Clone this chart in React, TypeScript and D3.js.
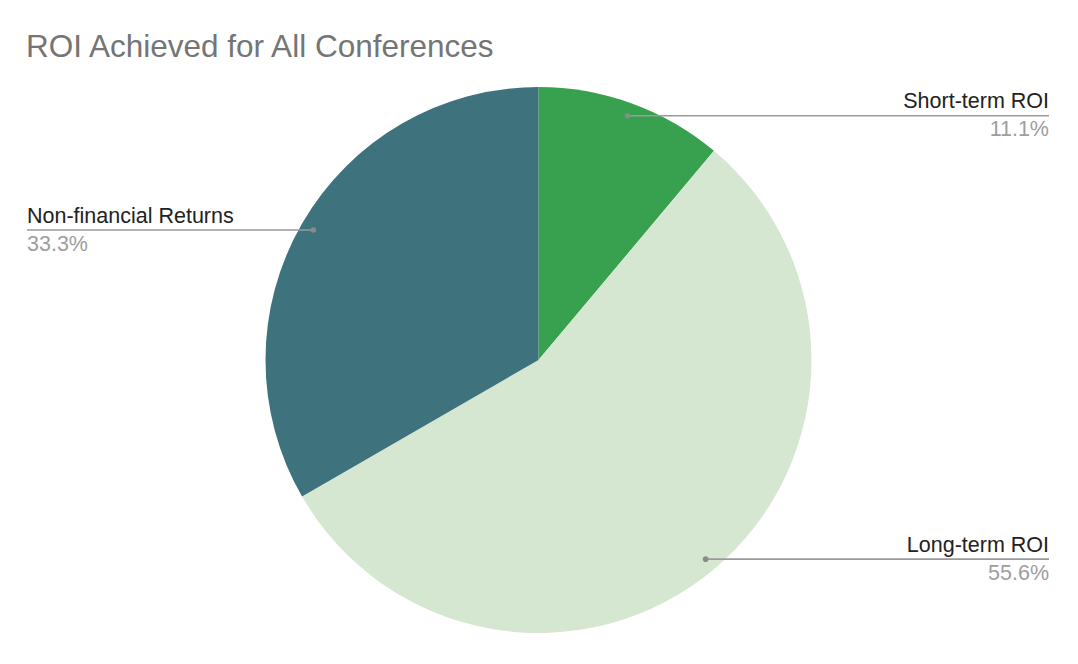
import * as d3 from 'd3';
import React, { useEffect, useRef } from 'react';

// ROI outcome counts (read as 1 : 5 : 3 from the chart percentages)
const categories = ['Short-term ROI', 'Long-term ROI', 'Non-financial Returns'];
const counts = [1, 5, 3];
const sliceColors = ['#38a14f', '#d5e7d0', '#3e737e'];

const title = 'ROI Achieved for All Conferences';

interface Slice {
    name: string;
    value: number;
    color: string;
}

export default function App() {
    const ref = useRef<SVGSVGElement>(null);

    useEffect(() => {
        const width = 1078;
        const height = 664;
        const cx = 538.5;
        const cy = 360;
        const radius = 273;
        const labelRight = 1049;
        const labelLeft = 27;
        const font = 'Arial, "Liberation Sans", Helvetica, sans-serif';

        const svg = d3.select(ref.current);
        svg.selectAll('*').remove();
        svg.attr('width', width).attr('height', height);

        svg.append('text')
            .attr('x', 26)
            .attr('y', 57)
            .attr('font-family', font)
            .attr('font-size', 31.5)
            .attr('fill', '#757575')
            .text(title);

        const data: Slice[] = categories.map((name, i) => ({ name, value: counts[i], color: sliceColors[i] }));
        const total = d3.sum(counts);

        const pie = d3.pie<Slice>()
            .sort(null)
            .value(d => d.value);
        const arcs = pie(data);

        const arc = d3.arc<d3.PieArcDatum<Slice>>()
            .innerRadius(0)
            .outerRadius(radius);

        // anchor points for the leader lines sit just inside the rim
        const anchorArc = d3.arc<d3.PieArcDatum<Slice>>()
            .innerRadius(260)
            .outerRadius(260);

        const g = svg.append('g').attr('transform', `translate(${cx},${cy})`);

        g.selectAll('path.slice')
            .data(arcs)
            .join('path')
            .attr('class', 'slice')
            .attr('d', arc)
            .attr('fill', d => d.data.color);

        const labels = svg.append('g');

        arcs.forEach(d => {
            const [ax, ay] = anchorArc.centroid(d);
            const px = cx + ax;
            const py = cy + ay;
            const right = ax > 0;
            const tx = right ? labelRight : labelLeft;
            const anchor = right ? 'end' : 'start';

            labels.append('line')
                .attr('x1', px)
                .attr('y1', py)
                .attr('x2', tx)
                .attr('y2', py)
                .attr('stroke', '#9a9a9a')
                .attr('stroke-width', 1.6);

            labels.append('circle')
                .attr('cx', px)
                .attr('cy', py)
                .attr('r', 2.8)
                .attr('fill', '#8a8a8a');

            labels.append('text')
                .attr('x', tx)
                .attr('y', py - 7.5)
                .attr('text-anchor', anchor)
                .attr('font-family', font)
                .attr('font-size', 21.5)
                .attr('fill', '#222222')
                .text(d.data.name);

            labels.append('text')
                .attr('x', tx)
                .attr('y', py + 20.5)
                .attr('text-anchor', anchor)
                .attr('font-family', font)
                .attr('font-size', 21.5)
                .attr('fill', '#9e9e9e')
                .text(((d.data.value / total) * 100).toFixed(1) + '%');
        });
    }, []);

    return (
        <svg
            ref={ref}
            style={{ position: 'absolute', left: 0, top: 0, background: '#ffffff' }}
        />
    );
}
